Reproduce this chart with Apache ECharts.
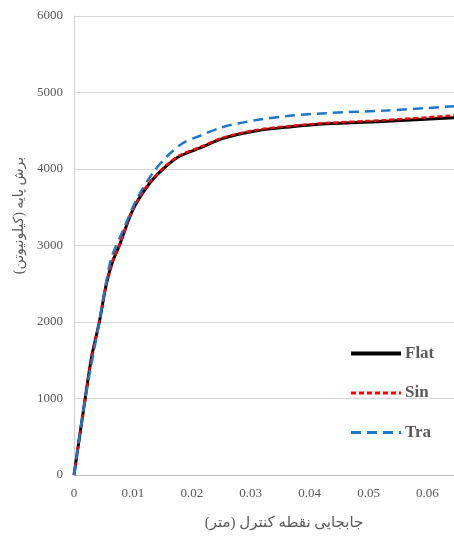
<!DOCTYPE html>
<html>
<head>
<meta charset="utf-8">
<script src="https://cdn.jsdelivr.net/npm/echarts@6/dist/echarts.min.js"></script>
<style>
  html, body { margin: 0; padding: 0; background: #ffffff; }
  #chart { width: 454px; height: 536px; }
</style>
</head>
<body>
<div id="chart"></div>
<script>
// Pushover curves: control-node displacement (m) vs. base shear (kN)
const seriesNames = ['Flat', 'Sin', 'Tra'];

const flatDisp  = [0, 0.0019, 0.0030, 0.0043, 0.0055, 0.0066, 0.0077, 0.0100, 0.0129, 0.0157, 0.0180, 0.0214, 0.0253, 0.0310, 0.0366, 0.0428, 0.0530, 0.0645];
const flatShear = [0, 1000, 1550, 2000, 2500, 2800, 3000, 3470, 3820, 4040, 4170, 4275, 4400, 4500, 4550, 4590, 4625, 4670];

const sinDisp   = [0, 0.0019, 0.0030, 0.0043, 0.0055, 0.0066, 0.0077, 0.0100, 0.0129, 0.0157, 0.0180, 0.0214, 0.0253, 0.0310, 0.0366, 0.0428, 0.0530, 0.0645];
const sinShear  = [0, 1000, 1550, 2000, 2500, 2800, 3000, 3475, 3830, 4050, 4180, 4285, 4410, 4510, 4560, 4600, 4640, 4700];

const traDisp   = [0, 0.0019, 0.0043, 0.0054, 0.0064, 0.0084, 0.0106, 0.0134, 0.0157, 0.0185, 0.0214, 0.0253, 0.0310, 0.0366, 0.0428, 0.0530, 0.0645];
const traShear  = [0, 1000, 2000, 2500, 2850, 3210, 3600, 3950, 4160, 4340, 4435, 4550, 4640, 4695, 4730, 4765, 4820];

const xTitle = 'جابجایی نقطه کنترل (متر)';
const yTitle = 'برش پایه (کیلونیوتن)';

function pairs(xs, ys) {
  return xs.map((x, i) => [x, ys[i]]);
}

const serif = '"Liberation Serif", "DejaVu Serif", "DejaVu Sans", serif';

const chart = echarts.init(document.getElementById('chart'));
chart.setOption({
  animation: false,
  backgroundColor: '#ffffff',
  grid: { left: 74, right: 0, top: 16, bottom: 60, containLabel: false },
  legend: {
    orient: 'vertical',
    left: 349,
    top: 345,
    padding: 0,
    itemWidth: 50,
    itemHeight: 14,
    itemGap: 22.5,
    itemStyle: { opacity: 0 },
    textStyle: { fontFamily: serif, fontSize: 17, fontWeight: 'bold', color: '#595959', padding: [0, 0, 0, -1] },
    data: [
      { name: seriesNames[0], lineStyle: { width: 4 } },
      { name: seriesNames[1], lineStyle: { width: 3 } },
      { name: seriesNames[2], lineStyle: { width: 3 } }
    ]
  },
  xAxis: {
    type: 'value',
    min: 0,
    max: 0.0645,
    interval: 0.01,
    name: xTitle,
    nameLocation: 'middle',
    nameGap: 41,
    nameTextStyle: { fontFamily: serif, fontSize: 15, color: '#595959', padding: [0, 0, 0, 40] },
    axisLine: { show: true, lineStyle: { color: '#bfbfbf', width: 1 } },
    axisTick: { show: false },
    splitLine: { show: false },
    axisLabel: {
      fontFamily: serif, fontSize: 13, color: '#595959', margin: 12,
      showMaxLabel: false
    }
  },
  yAxis: {
    type: 'value',
    min: 0,
    max: 6000,
    interval: 1000,
    name: yTitle,
    nameLocation: 'middle',
    nameGap: 44,
    nameRotate: 90,
    nameTextStyle: { fontFamily: serif, fontSize: 14, color: '#595959', padding: [0, 0, 0, 60] },
    axisLine: { show: true, lineStyle: { color: '#d0d0d0', width: 1 } },
    axisTick: { show: false },
    splitLine: { show: true, lineStyle: { color: '#d9d9d9', width: 1 } },
    axisLabel: {
      fontFamily: serif, fontSize: 13, color: '#595959', margin: 11,
      formatter: (v) => String(v)
    }
  },
  series: [
    {
      name: 'Flat', type: 'line', showSymbol: false, symbol: 'none', smooth: 0.3,
      data: pairs(flatDisp, flatShear),
      lineStyle: { color: '#000000', width: 3, type: 'solid' },
      itemStyle: { color: '#000000' }
    },
    {
      name: 'Sin', type: 'line', showSymbol: false, symbol: 'none', smooth: 0.3,
      data: pairs(sinDisp, sinShear),
      lineStyle: { color: '#ff0000', width: 2.5, type: [5, 3] },
      itemStyle: { color: '#ff0000' }
    },
    {
      name: 'Tra', type: 'line', showSymbol: false, symbol: 'none', smooth: 0.3,
      data: pairs(traDisp, traShear),
      lineStyle: { color: '#1e78c8', width: 2.5, type: [10, 6] },
      itemStyle: { color: '#1e78c8' }
    }
  ]
});
</script>
</body>
</html>
